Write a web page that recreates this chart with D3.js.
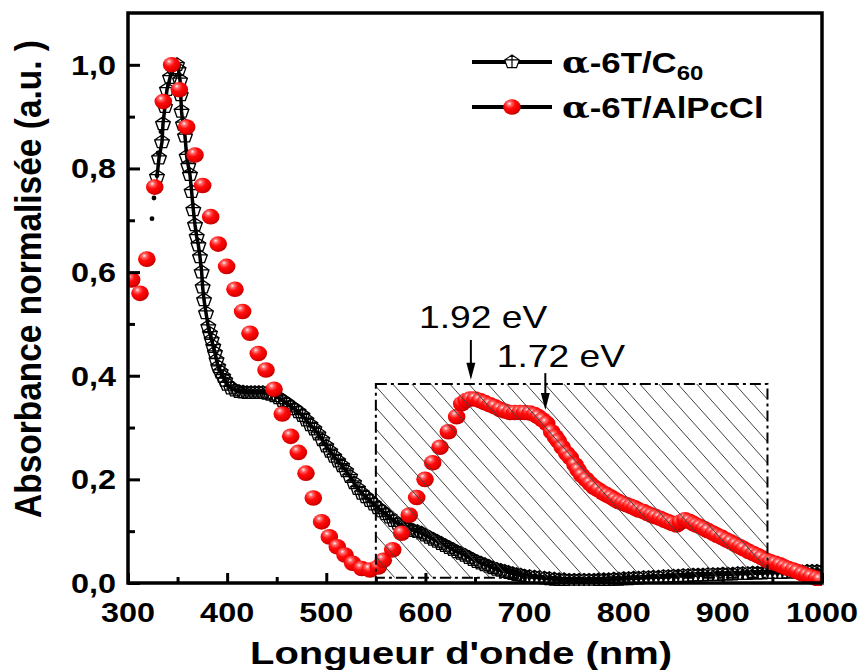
<!DOCTYPE html>
<html><head><meta charset="utf-8">
<script src="https://cdn.jsdelivr.net/npm/d3@7"></script>
<style>
html,body{margin:0;padding:0;background:#fff;}
svg{display:block;}
text{font-family:"Liberation Sans",Arial,sans-serif;}
</style></head>
<body>
<svg id="chart" width="864" height="670"></svg>
<script>
// ---------------- DATA ----------------
const xTicks = [300, 400, 500, 600, 700, 800, 900, 1000];
const yTicks = [0.0, 0.2, 0.4, 0.6, 0.8, 1.0];
const yTickLabels = ["0,0", "0,2", "0,4", "0,6", "0,8", "1,0"];

// α-6T/C60 (open pentagon symbols)
const c60Wavelength = [329.2,331.3,334.3,335.3,337.3,339.3,342.4,345.4,349.4,351,352.5,353.2,354,355.5,357.5,359.2,360.8,362.5,364.2,365.9,367.6,369.3,371,372.6,374.3,375.3,376.7,378.7,381,382.7,384.4,386,387.7,389.3,391,393.5,396,398,
400,404,408,412,416,420,424,428,432,436,440,444,448,452,456,460,464,468,472,476,480,484,488,492,496,500,504,508,512,516,520,524,528,532,536,540,544,548,552,556,560,564,568,572,576,580,584,588,592,596,600,604,608,612,616,620,624,628,632,636,640,644,648,652,656,660,664,668,672,676,680,684,688,692,696,700,
705,710,715,720,725,730,735,740,745,750,755,760,765,770,775,780,785,790,795,800,805,810,815,820,825,830,835,840,845,850,855,860,865,870,875,880,885,890,895,900,905,910,915,920,925,930,935,940,945,950,955,960,965,970,975,980,985,990,995,1000];
const c60Absorbance = [0.784,0.820,0.851,0.886,0.919,0.952,0.975,0.994,1.000,0.990,0.970,0.942,0.910,0.885,0.862,0.823,0.805,0.788,0.755,0.720,0.691,0.668,0.652,0.629,0.600,0.571,0.546,0.521,0.494,0.481,0.469,0.456,0.444,0.430,0.417,0.407,0.398,0.391,
0.383,0.376,0.372,0.369,0.368,0.367,0.367,0.367,0.367,0.367,0.366,0.364,0.361,0.357,0.352,0.347,0.341,0.336,0.330,0.323,0.314,0.305,0.297,0.287,0.276,0.264,0.254,0.244,0.235,0.226,0.216,0.205,0.193,0.182,0.173,0.166,0.159,0.152,0.145,0.139,0.133,0.127,0.120,0.115,0.111,0.107,0.104,0.101,0.099,0.096,0.092,0.088,0.084,0.080,0.076,0.072,0.068,0.064,0.060,0.057,0.053,0.049,0.045,0.041,0.038,0.035,0.032,0.029,0.026,0.024,0.022,0.020,0.018,0.016,0.015,0.013,
0.012,0.011,0.010,0.009,0.008,0.007,0.006,0.006,0.005,0.005,0.005,0.005,0.005,0.005,0.006,0.006,0.006,0.007,0.007,0.008,0.008,0.009,0.009,0.010,0.010,0.011,0.011,0.012,0.012,0.013,0.013,0.014,0.014,0.015,0.015,0.015,0.016,0.016,0.016,0.017,0.017,0.017,0.018,0.018,0.018,0.019,0.019,0.019,0.020,0.020,0.020,0.020,0.021,0.021,0.021,0.021,0.022,0.022,0.022,0.022];

// small black dots at the start of the α-6T/C60 trace
const c60DotWavelength = [324.2, 326.2, 329.3, 330.3, 333.3];
const c60DotAbsorbance = [0.703, 0.743, 0.786, 0.830, 0.871];

// α-6T/AlPcCl (red spheres)
const alpcWavelength = [303.7,312.1,319,327,335.6,344,351.8,359.2,367.6,375.3,383.4,391,399.5,407.9,415.6,423,431.4,439.2,447.3,455.6,464.1,471.8,479.5,486.9,495.3,503.1,511.1,518.9,526.6,535.7,544.1,552.5,557.5,567,576,583.7,591.2,599.6,607.3,614.7,623.1,631.5,636.6,641,645,650,655,660,665.1,670,675.2,680,685.3,690,695.4,700,705.4,710,713.8,718,722.3,727.3,731,734,738,742.5,746,750.9,754,757.6,762,766,770,774.4,779,783,787,791,795,799,803,807,811,815,820,824,828,832,836.6,841,845,849,853.4,857,861.8,866,870,873,876.9,881,885,890.3,894,899,903.8,908,913,917.3,921,926,930.7,935,939,944.1,948,953,957.6,962,966,971,975,980,984.5,989,994.5,998];
const alpcAbsorbance = [0.585,0.559,0.625,0.764,0.929,1.000,0.952,0.880,0.826,0.767,0.707,0.654,0.611,0.567,0.524,0.482,0.443,0.411,0.374,0.326,0.283,0.252,0.212,0.164,0.118,0.089,0.070,0.054,0.038,0.028,0.025,0.031,0.044,0.064,0.096,0.131,0.165,0.200,0.232,0.262,0.292,0.321,0.346,0.352,0.355,0.355,0.352,0.348,0.344,0.340,0.335,0.332,0.329,0.329,0.329,0.329,0.328,0.325,0.321,0.315,0.308,0.292,0.282,0.274,0.262,0.250,0.242,0.228,0.218,0.208,0.200,0.192,0.185,0.180,0.174,0.170,0.166,0.161,0.157,0.154,0.151,0.148,0.145,0.141,0.138,0.134,0.131,0.128,0.125,0.121,0.118,0.115,0.112,0.117,0.122,0.119,0.115,0.112,0.109,0.105,0.101,0.096,0.092,0.088,0.083,0.079,0.074,0.070,0.066,0.061,0.057,0.053,0.049,0.044,0.041,0.038,0.035,0.031,0.028,0.025,0.022,0.018,0.015,0.012,0.009,0.006];

const seriesNames = ["α-6T/C", "α-6T/AlPcCl"];
// hatched region [x0, x1] in nm, [y0, y1] in a.u.
const boxWavelength = [550, 945];
const boxAbsorbance = [0.010, 0.384];
// band-gap annotations (eV)
const gapEnergies = [1.92, 1.72];
const gapLabels = ["1.92 eV", "1.72 eV"];

// ---------------- LAYOUT ----------------
const SX = 1.2;   // horizontal stretch of the original figure (text)
const MSX = 1.1;  // marker stretch
const svg = d3.select("#chart");
const x = d3.scaleLinear().domain([300, 1000]).range([128, 822]);
const y = d3.scaleLinear().domain([0, 1.1]).range([583, 13]);

const defs = svg.append("defs");
defs.append("clipPath").attr("id", "plotClip").append("rect")
  .attr("x", x(300)).attr("y", y(1.1)).attr("width", x(1000) - x(300)).attr("height", y(0) - y(1.1) + 3);
const grad = defs.append("radialGradient").attr("id", "sphere")
  .attr("cx", "38%").attr("cy", "32%").attr("r", "70%").attr("fx", "35%").attr("fy", "28%");
grad.append("stop").attr("offset", "0%").attr("stop-color", "#fff4f4");
grad.append("stop").attr("offset", "18%").attr("stop-color", "#ff6a6a");
grad.append("stop").attr("offset", "45%").attr("stop-color", "#ff0c0c");
grad.append("stop").attr("offset", "80%").attr("stop-color", "#e80000");
grad.append("stop").attr("offset", "100%").attr("stop-color", "#b80000");

// pentagon with cross
const pr = 7;
const pent = d3.range(5).map(i => {
  const a = -Math.PI / 2 + i * 2 * Math.PI / 5;
  return [pr * Math.cos(a), pr * Math.sin(a)];
});
const pentPath = "M" + pent.map(p => p.join(",")).join("L") + "Z" +
  `M0,${-pr}L0,${pent[2][1]}M${pent[4][0]},${pent[1][1]}L${pent[1][0]},${pent[1][1]}`;

const plot = svg.append("g").attr("clip-path", "url(#plotClip)");

// α-6T/C60 line and markers
const c60 = c60Wavelength.map((w, i) => ({ x: w, y: c60Absorbance[i] }));
plot.append("path").datum(c60)
  .attr("d", d3.line().x(d => x(d.x)).y(d => y(d.y)))
  .attr("fill", "none").attr("stroke", "#000").attr("stroke-width", 3.5);
plot.append("g").selectAll("path").data(c60).join("path")
  .attr("transform", d => `translate(${x(d.x)},${y(d.y)}) scale(${MSX},1)`)
  .attr("d", pentPath).attr("fill", "none").attr("stroke", "#000").attr("stroke-width", 1.25);
plot.append("g").selectAll("circle").data(c60DotWavelength.map((w, i) => ({ x: w, y: c60DotAbsorbance[i] })))
  .join("circle").attr("cx", d => x(d.x)).attr("cy", d => y(d.y)).attr("r", 2.4).attr("fill", "#000");

// α-6T/AlPcCl spheres
const alpc = alpcWavelength.map((w, i) => ({ x: w, y: alpcAbsorbance[i] }));
plot.append("g").selectAll("ellipse").data(alpc).join("ellipse")
  .attr("cx", d => x(d.x)).attr("cy", d => y(d.y)).attr("rx", 8.8).attr("ry", 7.8)
  .attr("fill", "url(#sphere)");

// hatched box
const bx0 = x(boxWavelength[0]), bx1 = x(boxWavelength[1]);
const by0 = y(boxAbsorbance[1]), by1 = y(boxAbsorbance[0]);
defs.append("clipPath").attr("id", "boxClip").append("rect")
  .attr("x", bx0).attr("y", by0).attr("width", bx1 - bx0).attr("height", by1 - by0);
const hatch = svg.append("g").attr("clip-path", "url(#boxClip)");
const slope = 1.12, step = 19;
const hh = by1 - by0;
for (let sx0 = bx0 - hh / slope - step; sx0 < bx1 + step; sx0 += step) {
  hatch.append("line").attr("x1", sx0).attr("y1", by0).attr("x2", sx0 + hh / slope).attr("y2", by1)
    .attr("stroke", "#444").attr("stroke-width", 1);
}
svg.append("rect").attr("x", bx0).attr("y", by0).attr("width", bx1 - bx0).attr("height", by1 - by0)
  .attr("fill", "none").attr("stroke", "#000").attr("stroke-width", 2)
  .attr("stroke-dasharray", "11,4,3,4");

// arrows and labels
const arrowTop = [0.469, 0.405], arrowTip = [0.392, 0.334];
const labelStart = [593.5, 672], labelBase = [0.492, 0.417];
gapEnergies.forEach((e, i) => {
  const ax = x(1240 / e);
  const yt = y(arrowTop[i]), yp = y(arrowTip[i]);
  svg.append("line").attr("x1", ax).attr("x2", ax).attr("y1", yt).attr("y2", yp - 10)
    .attr("stroke", "#000").attr("stroke-width", 2);
  svg.append("path").attr("d", `M${ax - 4.5},${yp - 17}L${ax + 4.5},${yp - 17}L${ax},${yp}Z`).attr("fill", "#000");
  svg.append("text").attr("transform", `translate(${x(labelStart[i])},${y(labelBase[i])}) scale(${SX},1)`)
    .attr("font-size", 31).attr("fill", "#000").text(gapLabels[i]);
});

// frame
svg.append("rect").attr("x", x(300)).attr("y", y(1.1)).attr("width", x(1000) - x(300)).attr("height", y(0) - y(1.1))
  .attr("fill", "none").attr("stroke", "#000").attr("stroke-width", 3.5);

// axes (ticks inside)
const xAxis = d3.axisBottom(x).tickValues(d3.range(300, 1001, 50)).tickSize(-10).tickFormat("");
const gx = svg.append("g").attr("transform", `translate(0,${y(0)})`).call(xAxis);
gx.select(".domain").remove();
gx.selectAll(".tick line").attr("stroke", "#000").attr("stroke-width", 3)
  .attr("y2", d => (d % 100 === 0 ? -10 : -6));
const yAxis = d3.axisLeft(y).tickValues(d3.range(0, 11).map(i => i / 10)).tickSize(-10).tickFormat("");
const gy = svg.append("g").attr("transform", `translate(${x(300)},0)`).call(yAxis);
gy.select(".domain").remove();
gy.selectAll(".tick line").attr("stroke", "#000").attr("stroke-width", 3)
  .attr("x2", (d, i) => (i % 2 === 0 ? 12 : 7));

// tick labels
svg.append("g").selectAll("text").data(xTicks).join("text")
  .attr("transform", d => `translate(${x(d)},${622}) scale(${SX},1)`)
  .attr("text-anchor", "middle").attr("font-size", 27).attr("font-weight", "bold").text(d => d);
svg.append("g").selectAll("text").data(yTicks).join("text")
  .attr("transform", d => `translate(${116},${y(d) + 10}) scale(${SX},1)`)
  .attr("text-anchor", "end").attr("font-size", 27).attr("font-weight", "bold").text((d, i) => yTickLabels[i]);

// axis titles
svg.append("text").attr("x", 461).attr("y", 664).attr("text-anchor", "middle")
  .attr("font-size", 32).attr("font-weight", "bold")
  .attr("textLength", 422).attr("lengthAdjust", "spacingAndGlyphs").text("Longueur d'onde (nm)");
svg.append("text").attr("transform", `translate(41,279) rotate(-90) scale(1,${SX})`)
  .attr("text-anchor", "middle").attr("font-size", 31).attr("font-weight", "bold")
  .attr("textLength", 478).attr("lengthAdjust", "spacingAndGlyphs").text("Absorbance normalisée (a.u. )");

// legend
const legY = [62, 107];
legY.forEach((ly, i) => {
  svg.append("line").attr("x1", 472).attr("x2", 552).attr("y1", ly).attr("y2", ly)
    .attr("stroke", "#000").attr("stroke-width", 4);
  if (i === 0) {
    svg.append("path").attr("transform", `translate(512,${ly}) scale(${MSX},1)`).attr("d", pentPath)
      .attr("fill", "#fff").attr("stroke", "#000").attr("stroke-width", 1.1);
  } else {
    svg.append("ellipse").attr("cx", 512).attr("cy", ly).attr("rx", 8.8).attr("ry", 7.8).attr("fill", "url(#sphere)");
  }
  const t = svg.append("text").attr("transform", `translate(562,${ly + 11}) scale(${SX},1)`)
    .attr("font-size", 29).attr("font-weight", "bold");
  t.append("tspan").attr("font-family", "'DejaVu Serif',serif").attr("font-weight", "bold").attr("font-size", 30).text("α");
  t.append("tspan").text(seriesNames[i].slice(1));
  if (i === 0) t.append("tspan").attr("font-size", 20).attr("dy", 7).text("60");
});
</script>
</body></html>
